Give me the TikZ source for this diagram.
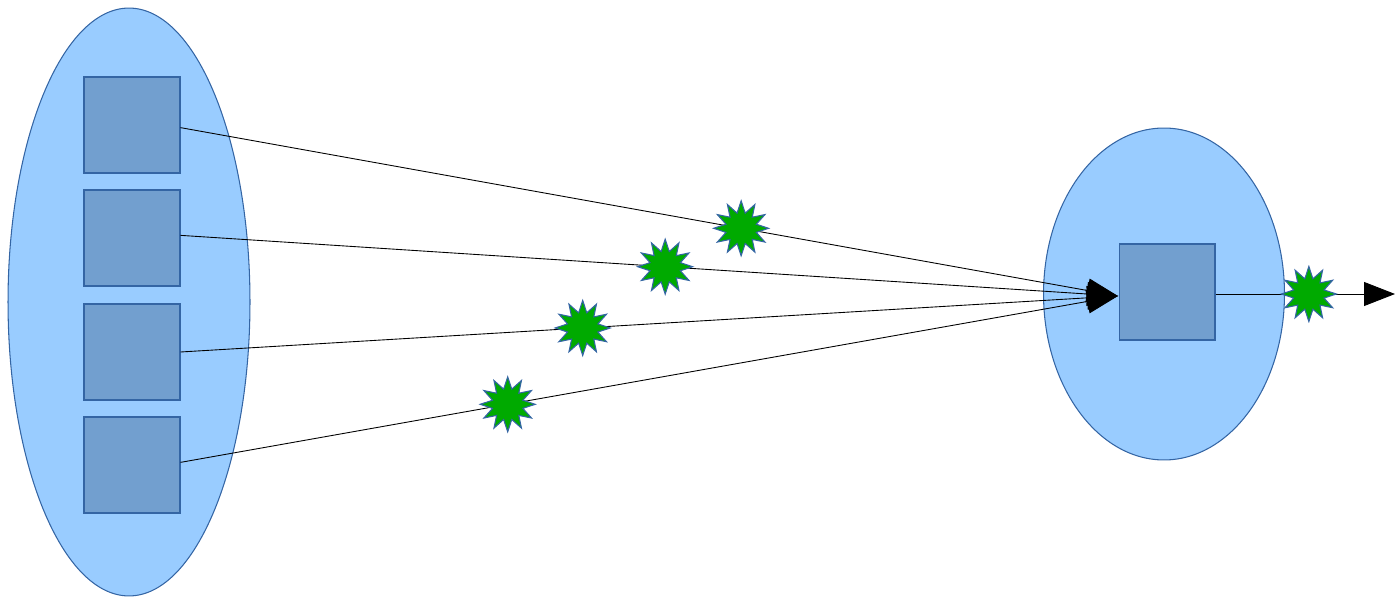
\documentclass[tikz,border=0pt]{standalone}
\usepackage{tikz}
\usetikzlibrary{positioning,arrows.meta,shapes.geometric}
\definecolor{CellFill}{RGB}{153,204,255}
\definecolor{CellLine}{RGB}{52,101,164}
\definecolor{UnitFill}{RGB}{114,159,207}
\definecolor{SparkFill}{RGB}{0,170,0}

\begin{document}
\begin{tikzpicture}[
    x=0.02cm, y=-0.02cm,
    cell/.style={ellipse, draw=CellLine, fill=CellFill, line width=0.6pt, inner sep=0pt},
    unit/.style={rectangle, draw=CellLine, fill=UnitFill, line width=0.6pt,
        minimum size=1.92cm, inner sep=0pt},
    spark/.style={star, star points=12, star point ratio=1.75, draw=CellLine,
        fill=SparkFill, line width=0.6pt, minimum size=1.1cm, inner sep=0pt},
    link/.style={-{Triangle[length=0.62cm, width=0.48cm]}, line width=0.5pt, black},
]
\useasboundingbox (0,0) rectangle (1395,597);
\node[cell, minimum width=4.84cm, minimum height=11.76cm] (src) at (129,302) {};
\node[cell, minimum width=4.82cm, minimum height=6.64cm] (dst) at (1164,294) {};
\node[unit] (u1) at (132,125) {};
\node[unit] (u2) at (132,238) {};
\node[unit] (u3) at (132,352) {};
\node[unit] (u4) at (132,465) {};
\node[unit] (out) at (1167,292) {};
\coordinate (in) at (1118,296);
\coordinate (end) at (1395,294);

\draw[link] ([yshift=-1.5pt]u1.east) -- (in) node[spark, pos=0.598] (s1) {};
\draw[link] ([yshift=1.5pt]u2.east) -- (in) node[spark, pos=0.517] (s2) {};
\draw[link] (u3.east) -- (in) node[spark, pos=0.429] (s3) {};
\draw[link] ([yshift=1.5pt]u4.east) -- (in) node[spark, pos=0.349] (s4) {};
\draw[link] (out.east |- end) -- (end) node[spark, pos=0.52] (s5) {};
\end{tikzpicture}
\end{document}
